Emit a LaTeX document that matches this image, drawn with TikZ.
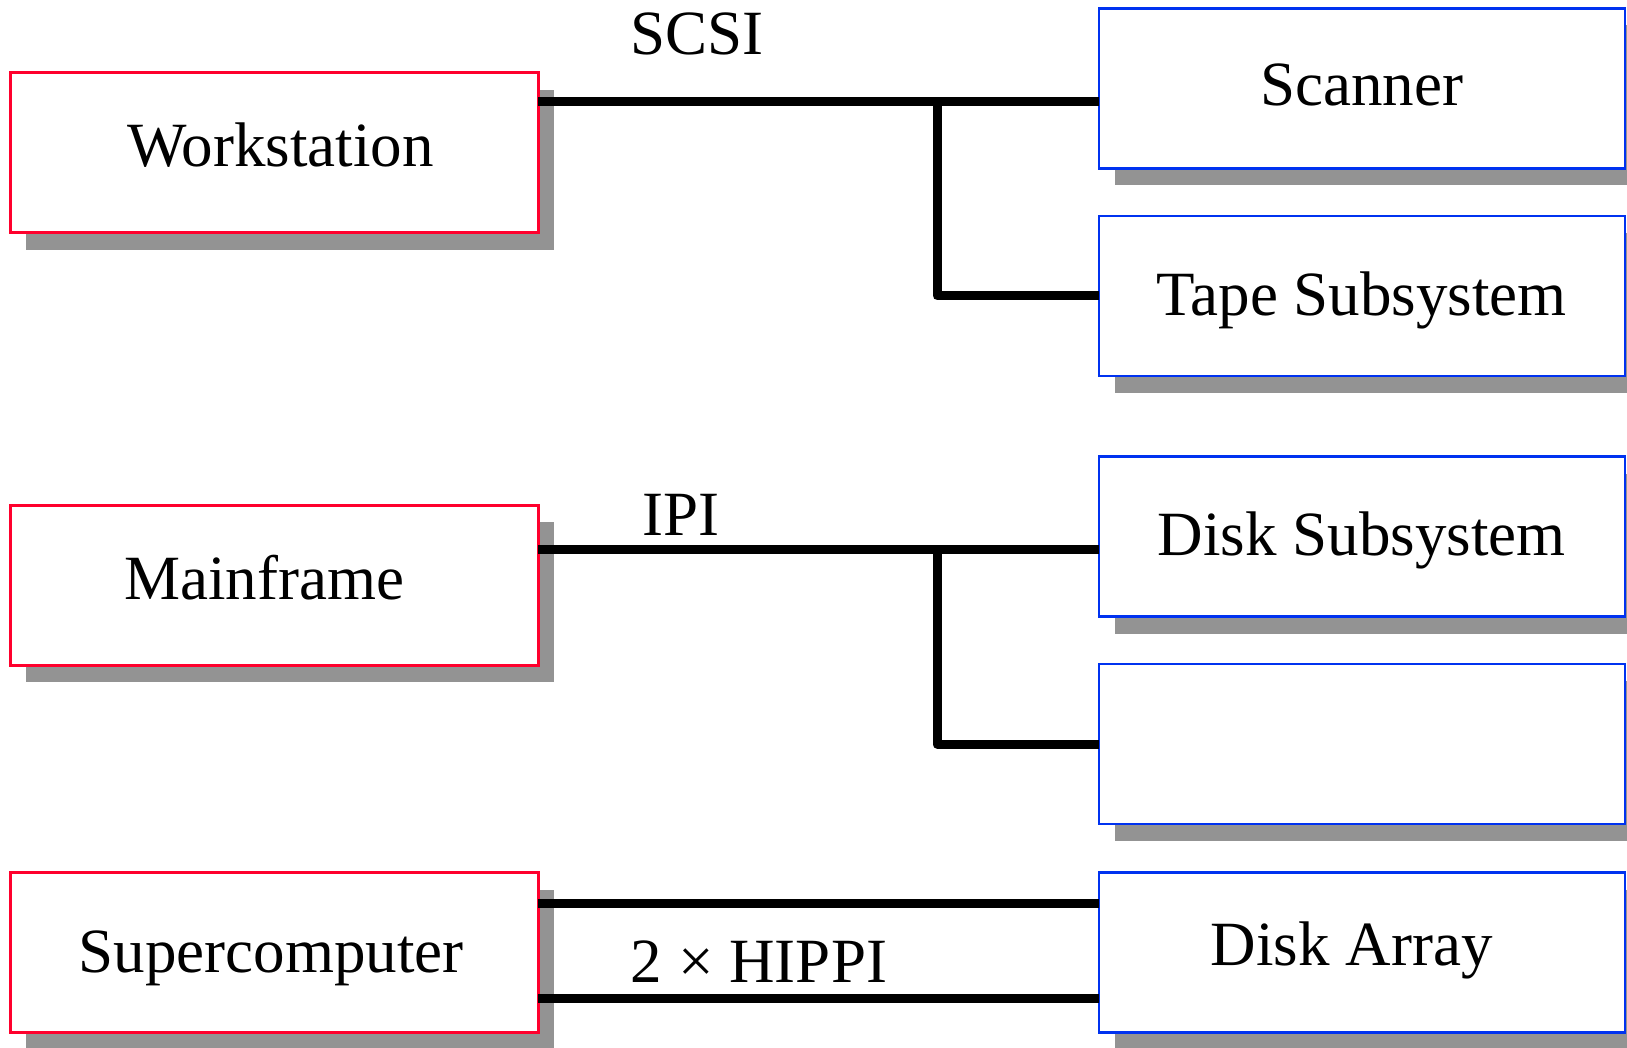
\documentclass[tikz,border=0pt]{standalone}
\usepackage{fontspec}
\setmainfont{Liberation Serif}
\usetikzlibrary{shadows,calc}

\definecolor{hostred}{RGB}{255,0,45}
\definecolor{devblue}{RGB}{0,50,240}
\definecolor{shadowgray}{RGB}{147,147,147}

\tikzset{
  unitbox/.style={draw, line width=2.4pt, fill=white, anchor=north west,
    minimum width=528pt, minimum height=160pt, inner sep=0pt, outer sep=0pt,
    text height=50pt, text depth=14pt,
    font=\fontsize{63}{70}\selectfont,
    drop shadow={shadow xshift=16pt, shadow yshift=-17pt, fill=shadowgray, opacity=1}},
  host/.style={unitbox, draw=hostred},
  device/.style={unitbox, draw=devblue, minimum width=526pt},
  bus/.style={line width=9pt, line join=round, line cap=butt},
  buslabel/.style={font=\fontsize{63}{70}\selectfont, inner sep=0pt}
}

\begin{document}
\begin{tikzpicture}[x=1pt, y=-1pt]
  \useasboundingbox (0,0) rectangle (1627,1047);

  % host computers
  \node[host] (ws)  at (10.4,72.6)  {\hspace*{12pt}\raisebox{3.8pt}{Workstation}};
  \node[host] (mf)  at (10.4,505.3) {\hspace*{-20pt}\raisebox{3.4pt}{Mainframe}};
  \node[host] (sc)  at (10.4,872.6) {\hspace*{-6pt}\raisebox{-1.7pt}{Supercomputer}};

  % attached devices
  \node[device] (scan)  at (1098.8,8.3)   {\raisebox{1.2pt}{Scanner}};
  \node[device] (tape)  at (1098.8,215.8) {\raisebox{-1.3pt}{Tape Subsystem}};
  \node[device] (disk)  at (1098.8,456.5) {\raisebox{-0.6pt}{Disk Subsystem}};
  \node[device] (spare) at (1098.8,664.1) {};
  \node[device] (array) at (1098.8,872.6) {\hspace*{-20pt}\raisebox{5pt}{Disk Array}};

  % bus branch points
  \coordinate (scsiJ) at (937,101.7);
  \coordinate (ipiJ)  at (937,549.9);

  % SCSI bus
  \draw[bus] (ws.east |- scsiJ) -- (scan.west |- scsiJ);
  \draw[bus] (scsiJ) |- (tape.west);

  % IPI bus
  \draw[bus] (mf.east |- ipiJ) -- (disk.west |- ipiJ);
  \draw[bus] (ipiJ) |- (spare.west);

  % dual HIPPI links
  \draw[bus] ([yshift=49.3pt]sc.east) -- ([yshift=49.3pt]array.west);
  \draw[bus] ([yshift=-46.2pt]sc.east) -- ([yshift=-46.2pt]array.west);

  % bus labels
  \node[buslabel] (lscsi)  at (697,34)  {SCSI};
  \node[buslabel] (lipi)   at (681,515) {IPI};
  \node[buslabel] (lhippi) at (759,962) {2 × HIPPI};
\end{tikzpicture}
\end{document}
